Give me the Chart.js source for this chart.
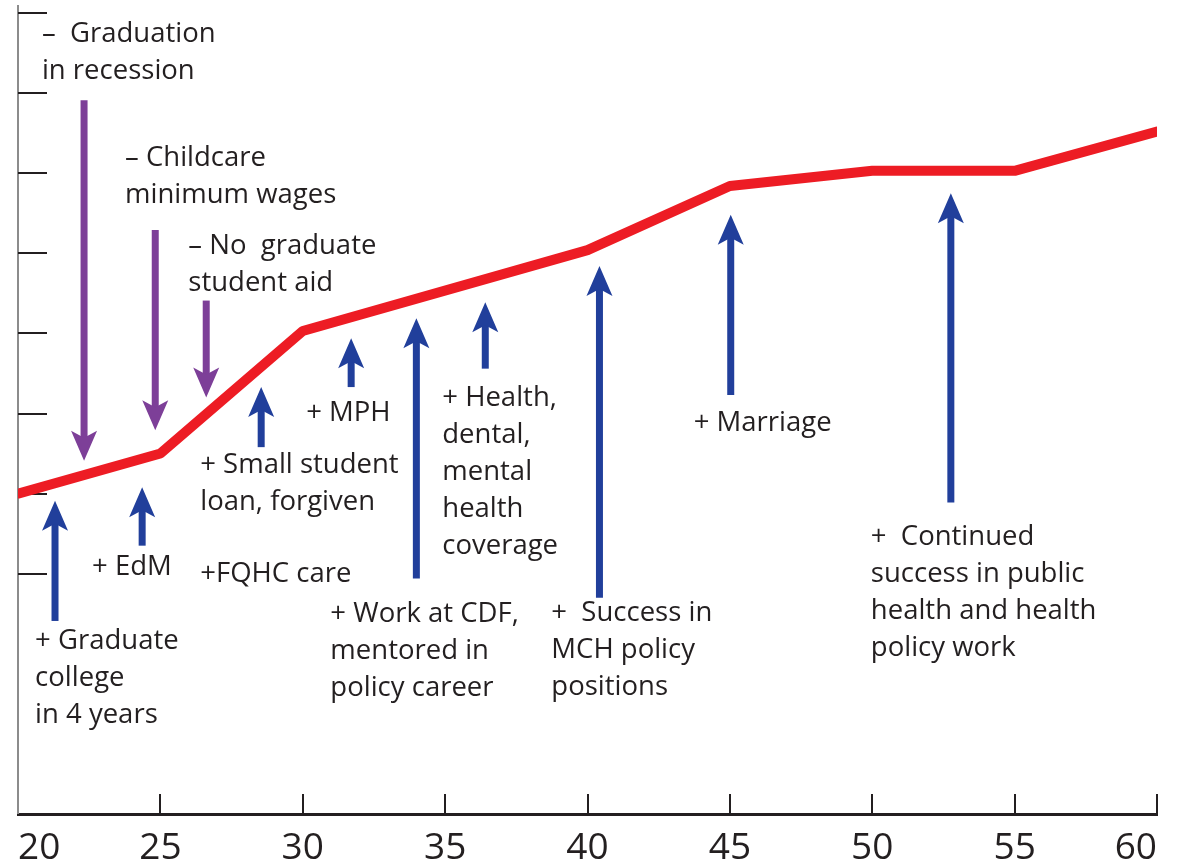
<!DOCTYPE html>
<html>
<head>
<meta charset="utf-8">
<script src="https://cdn.jsdelivr.net/npm/chart.js@4/dist/chart.umd.min.js"></script>
<style>
  body { margin: 0; background: #fff; }
  #wrap { width: 1182px; height: 868px; }
</style>
</head>
<body>
<div id="wrap"><canvas id="mycanvas"></canvas></div>
<script>
// ** Life course trajectory

// red trajectory line
var ages = [20, 25, 30, 40, 45, 50, 55, 60];
var level = [4.0, 4.5, 6.03, 7.04, 7.84, 8.03, 8.03, 8.52];

// x tick labels and y tick marks
var xTicks = [20, 25, 30, 35, 40, 45, 50, 55, 60];
var yTickMarks = [3, 4, 5, 6, 7, 8, 9, 10];

// negative events (purple, pointing down)
var negX = [22.32, 24.82, 26.61];
var negFrom = [8.91, 7.29, 6.41];
var negTo = [4.41, 4.79, 5.2];

// positive events (blue, pointing up)
var posX = [21.3, 24.36, 28.54, 31.7, 33.99, 36.41, 40.42, 45.03, 52.76];
var posFrom = [2.41, 3.35, 4.58, 5.33, 2.94, 5.56, 2.7, 5.23, 3.89];
var posTo = [3.91, 4.08, 5.33, 5.94, 6.19, 6.39, 6.84, 7.48, 7.75];

// annotation texts
var noteX = [20.84, 23.76, 25.98, 26.4, 30.12, 22.6, 26.4, 20.6, 34.9, 30.97, 38.73, 43.73, 49.95];
var noteY = [9.74, 8.19, 7.09, 4.36, 5.01, 3.08, 3.0, 2.16, 5.19, 2.49, 2.51, 4.88, 3.45];
var noteText = [
  ['\u2013  Graduation', 'in recession'],
  ['\u2013 Childcare', 'minimum wages'],
  ['\u2013 No  graduate', 'student aid'],
  ['+ Small student', 'loan, forgiven'],
  ['+ MPH'],
  ['+ EdM'],
  ['+FQHC care'],
  ['+ Graduate', 'college', 'in 4 years'],
  ['+ Health,', 'dental,', 'mental', 'health', 'coverage'],
  ['+ Work at CDF,', 'mentored in', 'policy career'],
  ['+  Success in', 'MCH policy', 'positions'],
  ['+ Marriage'],
  ['+  Continued', 'success in public', 'health and health', 'policy work']
];

var BLUE = '#213f9b';
var PURPLE = '#7d3f98';
var INK = '#231f20';

function arrow(ctx, x, y0, y1, color) {
  // y0 = tail, y1 = tip (pixels)
  var dir = y1 < y0 ? -1 : 1;
  var headLen = 30, headW = 13, notch = 7;
  ctx.save();
  ctx.strokeStyle = color;
  ctx.fillStyle = color;
  ctx.lineWidth = 7;
  ctx.beginPath();
  ctx.moveTo(x, y0);
  ctx.lineTo(x, y1 - dir * (headLen - notch - 1));
  ctx.stroke();
  ctx.beginPath();
  ctx.moveTo(x, y1);
  ctx.lineTo(x - headW, y1 - dir * headLen);
  ctx.lineTo(x, y1 - dir * (headLen - notch));
  ctx.lineTo(x + headW, y1 - dir * headLen);
  ctx.closePath();
  ctx.fill();
  ctx.restore();
}

var decor = {
  id: 'decor',
  beforeDatasetsDraw: function(chart) {
    var ctx = chart.ctx, a = chart.chartArea;
    var xs = chart.scales.x, ys = chart.scales.y;
    ctx.save();
    // y axis
    ctx.strokeStyle = '#8c8c8c';
    ctx.lineWidth = 2;
    ctx.beginPath();
    ctx.moveTo(a.left, a.top);
    ctx.lineTo(a.left, a.bottom);
    ctx.stroke();
    // y tick marks
    ctx.strokeStyle = INK;
    ctx.lineWidth = 2;
    yTickMarks.forEach(function(v) {
      var py = Math.round(ys.getPixelForValue(v));
      ctx.beginPath();
      ctx.moveTo(a.left, py);
      ctx.lineTo(a.left + 29, py);
      ctx.stroke();
    });
    // x tick marks (inside)
    xTicks.forEach(function(v) {
      if (v === xs.min) return;
      var px = Math.round(xs.getPixelForValue(v));
      ctx.beginPath();
      ctx.moveTo(px, a.bottom);
      ctx.lineTo(px, a.bottom - 20);
      ctx.stroke();
    });
    ctx.restore();
  },
  afterDatasetsDraw: function(chart) {
    var ctx = chart.ctx;
    var xs = chart.scales.x, ys = chart.scales.y;
    for (var i = 0; i < negX.length; i++) {
      arrow(ctx, xs.getPixelForValue(negX[i]), ys.getPixelForValue(negFrom[i]), ys.getPixelForValue(negTo[i]), PURPLE);
    }
    for (var j = 0; j < posX.length; j++) {
      arrow(ctx, xs.getPixelForValue(posX[j]), ys.getPixelForValue(posFrom[j]), ys.getPixelForValue(posTo[j]), BLUE);
    }
    ctx.save();
    ctx.fillStyle = INK;
    ctx.font = '27.5px "Open Sans"';
    ctx.textAlign = 'left';
    ctx.textBaseline = 'middle';
    for (var k = 0; k < noteText.length; k++) {
      var px = xs.getPixelForValue(noteX[k]);
      var py = ys.getPixelForValue(noteY[k]);
      noteText[k].forEach(function(line, n) {
        ctx.fillText(line, px, py + n * 37);
      });
    }
    ctx.restore();
  }
};

var ctx = document.getElementById('mycanvas');

var chart = new Chart(ctx, {
  type: 'line',
  data: {
    datasets: [{
      label: 'Trajectory',
      data: ages.map(function(a, i) { return { x: a, y: level[i] }; }),
      borderColor: '#ed1c24',
      borderWidth: 10,
      borderCapStyle: 'round',
      borderJoinStyle: 'round',
      pointRadius: 0,
      tension: 0,
      fill: false
    }]
  },
  options: {
    responsive: true,
    maintainAspectRatio: false,
    animation: false,
    layout: { padding: { left: 18, right: 25, top: 5, bottom: 0 } },
    plugins: {
      legend: { display: false },
      tooltip: { enabled: false }
    },
    scales: {
      x: {
        type: 'linear',
        min: 20,
        max: 60,
        afterBuildTicks: function(axis) {
          axis.ticks = xTicks.map(function(v) { return { value: v }; });
        },
        afterFit: function(axis) {
          axis.height = 54;
        },
        grid: { display: false, drawTicks: false },
        border: { display: true, color: INK, width: 3 },
        ticks: {
          align: 'inner',
          padding: 12,
          color: INK,
          font: { family: '"Open Sans"', size: 37 }
        }
      },
      y: {
        type: 'linear',
        min: 0,
        max: 10.1,
        display: false
      }
    }
  },
  plugins: [decor]
});
</script>
</body>
</html>
